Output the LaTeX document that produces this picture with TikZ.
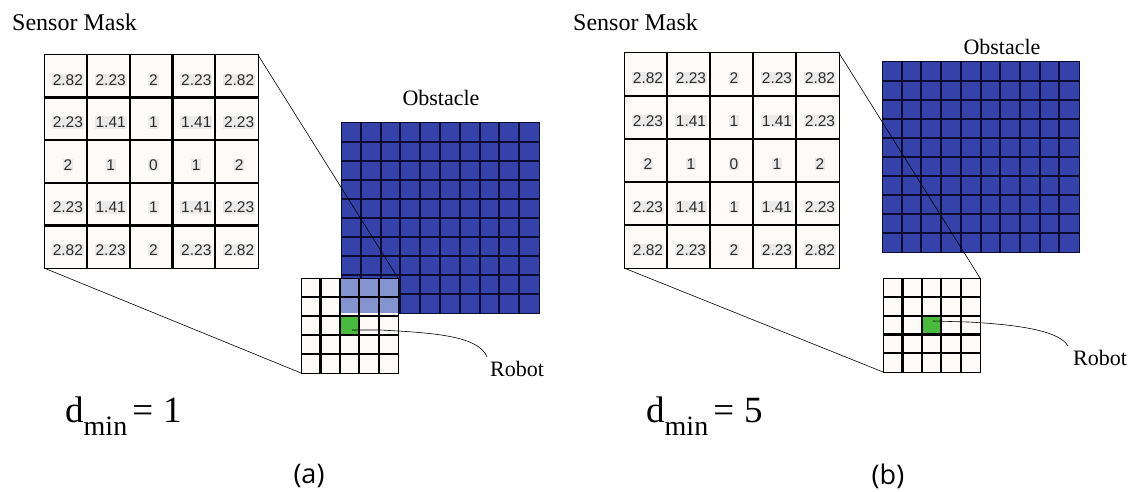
\documentclass[tikz,border=0pt]{standalone}
\usepackage{fontspec}
\setmainfont{Liberation Serif}
\newfontfamily\numfont{Liberation Sans}
\newfontfamily\capfont{Open Sans}
\definecolor{obstblue}{RGB}{52,66,170}
\definecolor{obstline}{RGB}{12,12,50}
\definecolor{overlapc}{RGB}{132,148,206}
\definecolor{robgreen}{RGB}{72,186,62}
\definecolor{cellbg}{RGB}{254,250,248}
\definecolor{numgray}{RGB}{45,45,45}
\definecolor{hl}{RGB}{234,234,234}
\tikzset{
  maskbox/.style={draw=black, line width=1pt, fill=cellbg, inner sep=0pt, outer sep=0pt},
  maskline/.style={line width=2.2pt, draw=black},
  maskcell/.style={font=\numfont\fontsize{15.5}{17}\selectfont, text=numgray, fill=hl, inner sep=0.8pt},
  smallbox/.style={draw=black, line width=1pt, fill=cellbg, inner sep=0pt, outer sep=0pt},
  smallline/.style={line width=2.2pt, draw=black},
  obstbox/.style={draw=obstline, line width=1pt, fill=obstblue, inner sep=0pt, outer sep=0pt},
  obstgrid/.style={line width=2pt, draw=obstline},
  conn/.style={line width=0.6pt, draw=black},
  serlbl/.style={font=\fontsize{22}{24}\selectfont, inner sep=0pt},
  smlbl/.style={font=\fontsize{24}{26}\selectfont, inner sep=0pt, anchor=base west},
  caplbl/.style={font=\capfont\fontsize{27}{30}\selectfont, inner sep=0pt},
  dlbl/.style={font=\fontsize{37}{40}\selectfont, inner sep=0pt, anchor=base west},
}
% #1 name, #2 x, #3 y, #4 width, #5 height
\newcommand\mydrawmask[5]{%
  \node[maskbox, anchor=north west, minimum width=#4pt, minimum height=#5pt] (#1) at (#2,#3) {};
  \foreach \k in {1,...,4} {
    \draw[maskline] ({#2+\k*#4/5},#3) -- ({#2+\k*#4/5},{#3+#5});
    \draw[maskline] (#2,{#3+\k*#5/5}) -- ({#2+#4},{#3+\k*#5/5});
  }
  \foreach \r/\vals in {0/{2.82,2.23,2,2.23,2.82},1/{2.23,1.41,1,1.41,2.23},2/{2,1,0,1,2},3/{2.23,1.41,1,1.41,2.23},4/{2.82,2.23,2,2.23,2.82}} {
    \foreach \v [count=\c from 0] in \vals {
      \node[maskcell] (#1-\r-\c) at ({#2+(\c+0.5)*#4/5+2.5},{#3+(\r+0.5)*#5/5+3.5}) {\v};
    }
  }
}
% #1 name, #2 x, #3 y, #4 width, #5 height
\newcommand\mydrawobst[5]{%
  \node[obstbox, anchor=north west, minimum width=#4pt, minimum height=#5pt] (#1) at (#2,#3) {};
  \foreach \k in {1,...,9} {
    \draw[obstgrid] ({#2+\k*#4/10},#3) -- ({#2+\k*#4/10},{#3+#5});
    \draw[obstgrid] (#2,{#3+\k*#5/10}) -- ({#2+#4},{#3+\k*#5/10});
  }
}
\newcommand\mydrawsmalllines[5]{%
  \foreach \k in {1,...,4} {
    \draw[smallline] ({#2+\k*#4/5},#3) -- ({#2+\k*#4/5},{#3+#5});
    \draw[smallline] (#2,{#3+\k*#5/5}) -- ({#2+#4},{#3+\k*#5/5});
  }
  \draw[line width=1pt] (#1.north west) rectangle (#1.south east);
}
\begin{document}
\begin{tikzpicture}[x=1pt,y=-1pt]
\useasboundingbox[fill=white] (0,0) rectangle (1133,492);

% ---------------- panel (a) ----------------
\mydrawobst{obstA}{341}{123}{198}{190}
\node[smallbox, anchor=north west, minimum width=97pt, minimum height=95pt] (gridA) at (301,278) {};
\fill[overlapc] (341,278) rectangle (398,313);
\fill[robgreen] (339.8,316) rectangle (359.2,335);
\mydrawsmalllines{gridA}{301}{278}{97}{95}
\mydrawmask{maskA}{44}{55}{214}{213}
\draw[conn] (maskA.north east) -- (gridA.north east);
\draw[conn] (maskA.south west) -- (gridA.south west);
\coordinate (robA) at (352,330);
\coordinate (robAend) at (487,357);
\node[serlbl] (robotA) at (517,369) {Robot};
\draw[conn] (robA) -- (380,330) .. controls (440,333) and (479,337) .. (robAend);
\node[smlbl] (smA) at (12,31) {Sensor Mask};
\node[serlbl] (obsLblA) at (441,98) {Obstacle};
\node[dlbl] (dA) at (65,422) {d\raisebox{-13pt}{\fontsize{28}{29}\selectfont min}\kern5pt=\kern10pt1};
\node[caplbl] (capA) at (309,476) {(a)};

% ---------------- panel (b) ----------------
\mydrawobst{obstB}{882}{62}{197}{190}
\node[smallbox, anchor=north west, minimum width=97pt, minimum height=94pt] (gridB) at (883,278) {};
\fill[robgreen] (921.8,315.6) rectangle (941.2,334.4);
\mydrawsmalllines{gridB}{883}{278}{97}{94}
\mydrawmask{maskB}{624}{53}{215}{215}
\draw[conn] (maskB.north east) -- (gridB.north east);
\draw[conn] (maskB.south west) -- (gridB.south west);
\coordinate (robB) at (933,321);
\coordinate (robBend) at (1068,346);
\node[serlbl] (robotB) at (1100,358) {Robot};
\draw[conn] (robB) -- (968,322) .. controls (1025,325) and (1060,332) .. (robBend);
\node[smlbl] (smB) at (573,31) {Sensor Mask};
\node[serlbl] (obsLblB) at (1002,47) {Obstacle};
\node[dlbl] (dB) at (646,422) {d\raisebox{-13pt}{\fontsize{28}{29}\selectfont min}\kern5pt=\kern10pt5};
\node[caplbl] (capB) at (888,476) {(b)};
\end{tikzpicture}
\end{document}
